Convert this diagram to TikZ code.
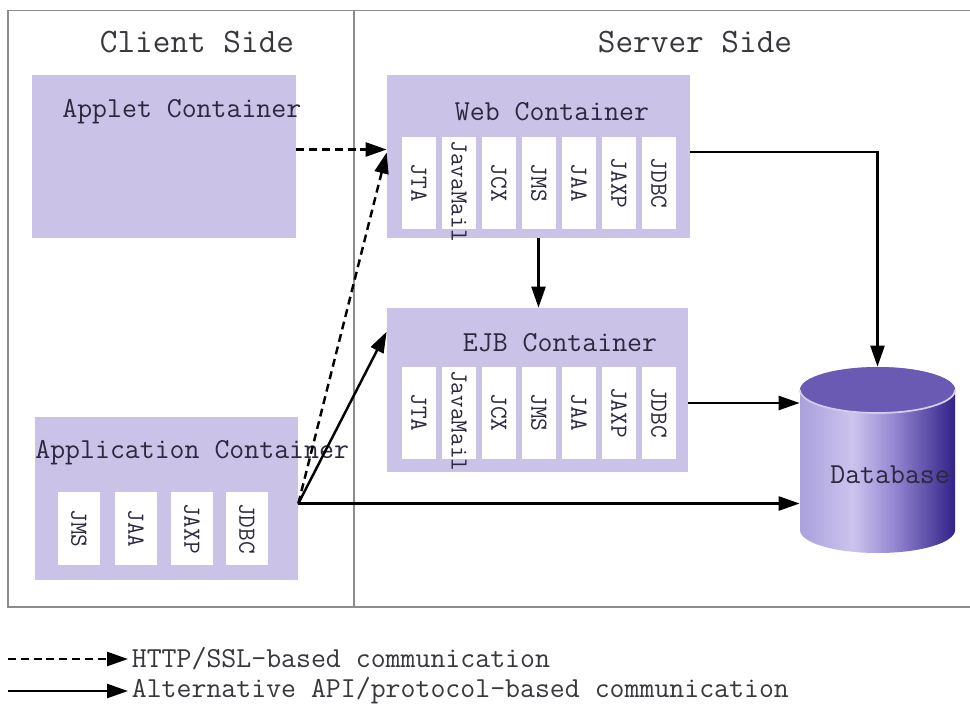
\documentclass[tikz,border=0pt]{standalone}
\usepackage{fontspec}
\usepackage{tikz}
\usetikzlibrary{calc,shapes,arrows.meta}
\definecolor{BoxLilac}{RGB}{203,194,232}
\definecolor{FrameGray}{RGB}{140,140,140}
\definecolor{InkDark}{RGB}{45,40,62}
\definecolor{HeadGray}{RGB}{55,55,60}
\definecolor{DbLeft}{RGB}{170,160,220}
\definecolor{DbLight}{RGB}{204,196,238}
\definecolor{DbMid}{RGB}{150,136,210}
\definecolor{DbDark}{RGB}{50,34,136}
\definecolor{DbTop}{RGB}{106,90,180}
\pgfdeclarehorizontalshading{dbshade}{100bp}{color(0bp)=(DbLeft); color(25bp)=(DbLeft); color(42bp)=(DbLight); color(55bp)=(DbMid); color(75bp)=(DbDark); color(100bp)=(DbDark)}

\begin{document}
\begin{tikzpicture}
				\tikzstyle{container}=[draw=none, fill=BoxLilac, inner sep=0pt];
				\tikzstyle{svc}=[fill=white, rotate=-90, minimum width=1.84cm, minimum height=0.68cm, inner sep=0pt, font=\ttfamily\fontsize{14}{14}\selectfont, text=InkDark];
				\tikzstyle{appsvc}=[svc, minimum width=1.46cm, minimum height=0.84cm];
				\tikzstyle{heading}=[font=\ttfamily\fontsize{19.5}{22}\selectfont, text=HeadGray, inner sep=0pt];
				\tikzstyle{title}=[font=\ttfamily\fontsize{16.5}{19}\selectfont, text=InkDark, inner sep=0pt];
				\tikzstyle{legend}=[title, font=\ttfamily\fontsize{16.5}{19}\selectfont, text=HeadGray, inner xsep=2pt];
				\tikzstyle{solidarrow}=[line width=1.4pt, -{Triangle[length=0.42cm,width=0.28cm]}, black];
				\tikzstyle{dasharrow}=[solidarrow, dash pattern=on 4.5pt off 2.8pt];
				\useasboundingbox (0,0) rectangle (19.4,-14.14);
				% frame
				\draw[FrameGray, line width=1.1pt] (19.5,-0.21) -- (0.16,-0.21) -- (0.16,-12.14) -- (19.5,-12.14);
				\draw[FrameGray, line width=1.1pt] (7.08,-0.21) -- (7.08,-12.14);
				\node [heading] (t1) at (3.94,-0.84) {Client Side};
				\node [heading] (t2) at (13.9,-0.84) {Server Side};
				% containers
				\node [container, minimum width=5.28cm, minimum height=3.26cm] (c1) at (3.28,-3.13) {};
				\node [container, minimum width=6.06cm, minimum height=3.26cm] (c2) at (10.77,-3.13) {};
				\node [container, minimum width=6.02cm, minimum height=3.28cm] (c3) at (10.75,-7.8) {};
				\node [container, minimum width=5.26cm, minimum height=3.26cm] (c4) at (3.33,-9.97) {};
				\node [title, anchor=west] (t3) at (1.24,-2.24) {Applet Container};
				\node [title] (t4) at (11.04,-2.24) {Web Container};
				\node [title] (t5) at (11.2,-6.86) {EJB Container};
				\node [title, anchor=west] (t6) at (0.7,-9.06) {Application Container};
				% web container services
				\node [svc] (w1) at (8.38,-3.66) {JTA};
				\node [svc, text width=1.7cm, align=left] (w2) at (9.18,-3.66) {JavaMail};
				\node [svc] (w3) at (9.98,-3.66) {JCX};
				\node [svc] (w4) at (10.78,-3.66) {JMS};
				\node [svc] (w5) at (11.58,-3.66) {JAA};
				\node [svc] (w6) at (12.38,-3.66) {JAXP};
				\node [svc] (w7) at (13.18,-3.66) {JDBC};
				% ejb container services
				\node [svc] (e1) at (8.38,-8.25) {JTA};
				\node [svc, text width=1.7cm, align=left] (e2) at (9.18,-8.25) {JavaMail};
				\node [svc] (e3) at (9.98,-8.25) {JCX};
				\node [svc] (e4) at (10.78,-8.25) {JMS};
				\node [svc] (e5) at (11.58,-8.25) {JAA};
				\node [svc] (e6) at (12.38,-8.25) {JAXP};
				\node [svc] (e7) at (13.18,-8.25) {JDBC};
				% application container services
				\node [appsvc] (a1) at (1.58,-10.57) {JMS};
				\node [appsvc] (a2) at (2.72,-10.57) {JAA};
				\node [appsvc] (a3) at (3.84,-10.57) {JAXP};
				\node [appsvc] (a4) at (4.94,-10.57) {JDBC};
				% database
				\shade[shading=dbshade] (16.0,-7.8) -- (16.0,-10.6) arc[start angle=180, end angle=360, x radius=1.55, y radius=0.46] -- (19.1,-7.8) arc[start angle=0, end angle=180, x radius=1.55, y radius=0.46] -- cycle;
				\fill[DbTop] (17.55,-7.8) ellipse [x radius=1.55, y radius=0.46];
				\draw[white!70!DbTop, line width=1pt] (16.0,-7.8) arc[start angle=180, end angle=360, x radius=1.55, y radius=0.46];
				\node [draw=none, minimum width=3.1cm, minimum height=3.72cm, inner sep=0pt] (db) at (17.55,-9.2) {};
				\node [title, anchor=west] (t7) at (16.6,-9.5) {Database};
				% connectors
				\coordinate (p0) at ([yshift=-0.1cm]c4.east);
				\coordinate (p1) at ([yshift=-0.26cm]c3.east);
				\draw[dasharrow] ([yshift=0.14cm]c1.east) -- ([yshift=0.14cm]c2.west);
				\draw[dasharrow] (p0) -- ([yshift=0.08cm]c2.west);
				\draw[solidarrow] (p0) -- ([yshift=-0.48cm]c3.north west);
				\draw[solidarrow] (p0) -- (p0 -| db.west);
				\draw[solidarrow] (p1) -- (p1 -| db.west);
				\draw[solidarrow] ([yshift=0.09cm]c2.east) -| (db.north);
				\draw[solidarrow] (c2.south) -- (c2.south |- c3.north);
				% legend
				\coordinate (l1) at (0.16,-13.18);
				\coordinate (l2) at (0.16,-13.82);
				\node [legend, anchor=west] (t8) at (2.56,-13.18) {HTTP/SSL-based communication};
				\node [legend, anchor=west] (t9) at (2.56,-13.82) {Alternative API/protocol-based communication};
				\draw[dasharrow] (l1) -- (t8.west);
				\draw[solidarrow] (l2) -- (t9.west);
			\end{tikzpicture}
\end{document}
